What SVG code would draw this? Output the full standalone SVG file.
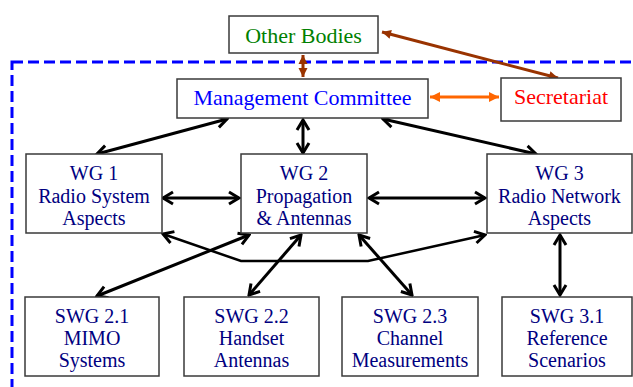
<svg xmlns="http://www.w3.org/2000/svg" width="633" height="387" viewBox="0 0 633 387">
<style>
.box{fill:#fff;stroke:#3a3a3a;stroke-width:1.5}
.t{font-family:"Liberation Serif","Times New Roman",serif;text-anchor:middle}
.big{font-size:22px}
.sm{font-size:20px;fill:#000080}
.blk{fill:none;stroke:#000;stroke-width:3;marker-start:url(#ab);marker-end:url(#ab)}
.thin{fill:none;stroke:#000;stroke-width:2.5;marker-start:url(#ab);marker-end:url(#ab)}
.brn{fill:none;stroke:#993300;stroke-width:3;marker-start:url(#abr);marker-end:url(#abr)}
.org{fill:none;stroke:#FF6600;stroke-width:3;marker-start:url(#aor);marker-end:url(#aor)}
</style>
<defs>
<marker id="ab" viewBox="-13 -8 15 16" refX="0" refY="0" markerWidth="15" markerHeight="16" markerUnits="userSpaceOnUse" orient="auto-start-reverse">
<path d="M-10,-6 L0,0 L-10,6" fill="none" stroke="#000" stroke-width="3"/>
</marker>
<marker id="abr" viewBox="-11 -6 12 12" refX="0" refY="0" markerWidth="12" markerHeight="12" markerUnits="userSpaceOnUse" orient="auto-start-reverse">
<path d="M-9,-4.5 L0,0 L-9,4.5 Z" fill="#993300"/>
</marker>
<marker id="aor" viewBox="-11 -6 12 12" refX="0" refY="0" markerWidth="12" markerHeight="12" markerUnits="userSpaceOnUse" orient="auto-start-reverse">
<path d="M-10,-5 L0,0 L-10,5 Z" fill="#FF6600"/>
</marker>
</defs>
<rect x="12" y="62" width="660" height="360" fill="none" stroke="#0000FF" stroke-width="3" stroke-dasharray="11 5"/>
<g id="connectors">
<line class="brn" x1="303" y1="55" x2="303" y2="77"/>
<line class="brn" x1="382" y1="32" x2="558" y2="78"/>
<line class="org" x1="430" y1="97" x2="499" y2="97"/>
<line class="blk" x1="227" y1="119" x2="97" y2="154"/>
<line class="blk" x1="303" y1="120" x2="303" y2="153"/>
<line class="blk" x1="383" y1="119" x2="536" y2="154"/>
<line class="blk" x1="163" y1="198" x2="239" y2="198"/>
<line class="blk" x1="369" y1="198" x2="485" y2="198"/>
<polyline class="thin" points="163,234 241,261 368,261 485,235"/>
<line class="blk" x1="249" y1="235" x2="97" y2="296"/>
<line class="blk" x1="301" y1="235" x2="249" y2="295"/>
<line class="blk" x1="359" y1="235" x2="412" y2="295"/>
<line class="blk" x1="560" y1="235" x2="560" y2="295"/>
</g>
<g id="other-bodies">
<rect class="box" x="229" y="16" width="149" height="37"/>
<text class="t big" x="303.5" y="43" fill="#008000">Other Bodies</text>
</g>
<g id="management-committee">
<rect class="box" x="177" y="79" width="251" height="39"/>
<text class="t big" x="302.5" y="105" fill="#0000FF">Management Committee</text>
</g>
<g id="secretariat">
<rect class="box" x="501" y="78" width="120" height="43"/>
<text class="t big" x="561" y="104" fill="#FF0000">Secretariat</text>
</g>
<g id="wg1">
<rect class="box" x="26" y="154" width="136" height="79"/>
<text class="t sm" x="94" y="180">WG 1</text>
<text class="t sm" x="94" y="203">Radio System</text>
<text class="t sm" x="94" y="225">Aspects</text>
</g>
<g id="wg2">
<rect class="box" x="241" y="154" width="126" height="79"/>
<text class="t sm" x="304" y="180">WG 2</text>
<text class="t sm" x="304" y="203">Propagation</text>
<text class="t sm" x="304" y="225">&amp; Antennas</text>
</g>
<g id="wg3">
<rect class="box" x="487" y="154" width="145" height="79"/>
<text class="t sm" x="559.5" y="180">WG 3</text>
<text class="t sm" x="559.5" y="203">Radio Network</text>
<text class="t sm" x="559.5" y="225">Aspects</text>
</g>
<g id="swg21">
<rect class="box" x="25" y="297" width="134" height="79"/>
<text class="t sm" x="92" y="323">SWG 2.1</text>
<text class="t sm" x="92" y="345">MIMO</text>
<text class="t sm" x="92" y="367">Systems</text>
</g>
<g id="swg22">
<rect class="box" x="184" y="297" width="135" height="79"/>
<text class="t sm" x="251.5" y="323">SWG 2.2</text>
<text class="t sm" x="251.5" y="345">Handset</text>
<text class="t sm" x="251.5" y="367">Antennas</text>
</g>
<g id="swg23">
<rect class="box" x="342" y="297" width="136" height="79"/>
<text class="t sm" x="410" y="323">SWG 2.3</text>
<text class="t sm" x="410" y="345">Channel</text>
<text class="t sm" x="410" y="367">Measurements</text>
</g>
<g id="swg31">
<rect class="box" x="502" y="297" width="130" height="79"/>
<text class="t sm" x="567" y="323">SWG 3.1</text>
<text class="t sm" x="567" y="345">Reference</text>
<text class="t sm" x="567" y="367">Scenarios</text>
</g>
</svg>
